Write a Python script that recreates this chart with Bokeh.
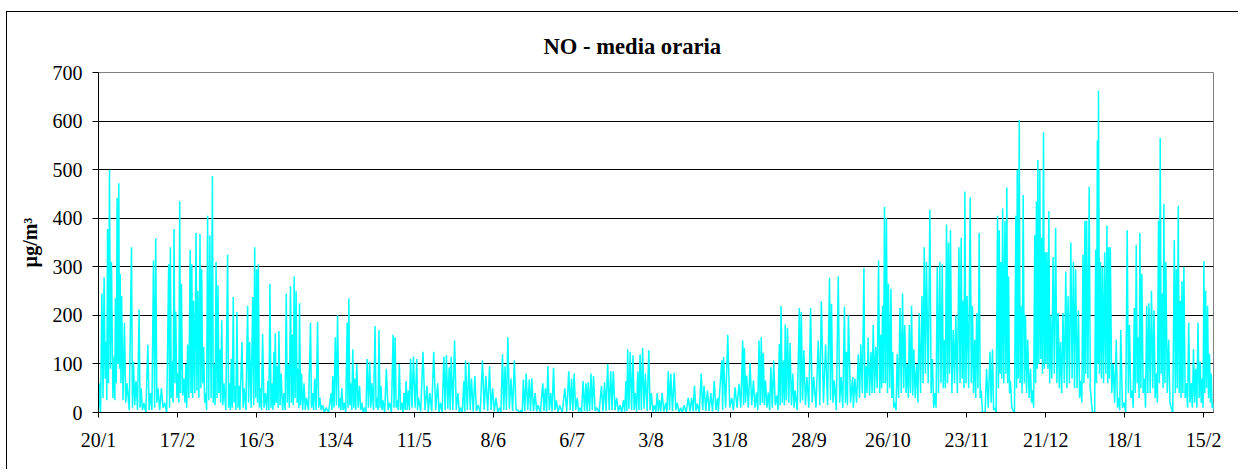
from bokeh.plotting import figure
from bokeh.models import Range1d, FixedTicker
from bokeh.embed import file_html
from bokeh.resources import INLINE

# x = days since 20/1 (hourly NO series, read as successive peaks and the trough after each)
tick_days = [0, 28, 56, 84, 112, 140, 168, 196, 224, 252, 280, 308, 336, 364, 392]
tick_labels = ["20/1", "17/2", "16/3", "13/4", "11/5", "8/6", "6/7", "3/8",
               "31/8", "28/9", "26/10", "23/11", "21/12", "18/1", "15/2"]

# winter 1 (20/1 - 10/3)
days_w1 = [0.3, 1.2, 2, 2.7, 3.2, 3.9, 4.6, 5.6, 6, 6.6, 7.2, 7.7, 8.2, 9.2, 10.1, 11.7,
           12.4, 13.3, 14.4, 15.1, 16.1, 17.5, 18.4, 19.5, 20.3, 21.1, 22.3, 23.5, 24.9,
           25.5, 26.1, 26.8, 27.4, 28.2, 28.8, 29.4, 30.3, 31, 31.6, 32.5, 33.1, 33.7,
           34.6, 35.2, 36, 36.6, 37.3, 38, 38.7, 39.5, 40.4, 41, 41.7, 42.4, 43, 43.7,
           44.5, 45.8, 46.5, 47.1, 47.8, 48.4, 49.1, 49.9]
peaks_w1 = [60, 245, 278, 145, 378, 500, 310, 115, 235, 442, 472, 285, 240, 185, 60, 340,
            105, 65, 212, 50, 20, 140, 40, 313, 358, 50, 50, 20, 305, 340, 105, 378, 208,
            80, 435, 265, 70, 100, 140, 335, 305, 230, 370, 250, 368, 295, 135, 40, 405,
            365, 487, 100, 310, 262, 130, 190, 60, 325, 60, 110, 238, 55, 207, 55]
lows_w1 = [0, 30, 70, 25, 60, 90, 30, 25, 60, 100, 90, 60, 25, 20, 5, 10, 15, 5, 10, 5,
           0, 5, 5, 10, 20, 5, 10, 0, 10, 30, 20, 60, 30, 20, 40, 35, 20, 10, 30, 40,
           30, 40, 45, 30, 50, 60, 20, 5, 25, 30, 20, 15, 30, 40, 20, 15, 5, 10, 5, 10,
           20, 5, 10, 5]

# spring (10/3 - 11/5)
days_sp = [50.9, 51.7, 52.9, 53.6, 54.7, 55.4, 56.1, 56.7, 57.4, 58.2, 59.2, 60.1, 60.8,
           61.6, 62.2, 62.7, 63.4, 64, 64.8, 65.8, 66.6, 67.3, 68.1, 68.8, 69.4, 70.1,
           70.8, 71.3, 72, 72.9, 73.8, 75.2, 75.9, 76.7, 77.7, 78.5, 79.5, 80.7, 82.5,
           83.1, 84, 84.8, 85.7, 86.3, 87.2, 88.2, 88.8, 89.5, 90.2, 90.9, 91.6, 92.6,
           93.4, 94.4, 95.3, 96.2, 97, 98.1, 98.8, 99.5, 100.2, 100.9, 102.1, 103.3,
           104.5, 105.2, 106, 106.7, 107.6, 108.4, 109.1, 109.9, 110.7, 111.7, 112.9]
peaks_sp = [145, 50, 220, 145, 238, 340, 295, 305, 50, 162, 40, 65, 265, 60, 125, 163, 95,
            168, 80, 40, 245, 100, 260, 160, 280, 250, 90, 225, 80, 60, 30, 185, 40, 70,
            187, 30, 15, 10, 40, 75, 155, 200, 30, 50, 20, 185, 235, 60, 130, 70, 100, 55,
            20, 10, 110, 105, 60, 178, 30, 170, 55, 25, 90, 20, 160, 155, 25, 100, 20, 40,
            65, 45, 110, 115, 110]
lows_sp = [10, 5, 20, 10, 15, 30, 20, 10, 5, 10, 5, 5, 10, 5, 15, 20, 10, 15, 5, 5,
           20, 10, 20, 15, 30, 20, 10, 15, 5, 5, 5, 10, 5, 5, 10, 5, 0, 0, 5, 10,
           15, 10, 5, 5, 0, 10, 15, 5, 10, 5, 10, 5, 0, 0, 10, 10, 5, 10, 5, 10,
           5, 0, 5, 0, 10, 10, 5, 5, 0, 5, 5, 5, 10, 10, 5]

# summer (11/5 - 28/8)
days_su = [113.5, 115.1, 116.5, 117.5, 118.9, 120.3, 121.3, 122.5, 123.4, 124.4, 125.1,
           126.3, 127.5, 128.4, 129.6, 130.2, 131.4, 132.3, 133.5, 134.6, 136.2, 137.4,
           138.7, 139.8, 141, 142.2, 143.3, 144.2, 145.2, 146.3, 147.5, 148.7, 149.9,
           150.7, 151.7, 152.8, 153.7, 154.9, 155.9, 157.6, 158.5, 159.4, 160.4, 161.4,
           162.4, 163.6, 165.4, 166.8, 167.8, 168.7, 169.8, 170.8, 171.9, 172.9, 173.7,
           174.7, 175.6, 176.7, 178.4, 179.5, 180.6, 181.7, 182.6, 183.8, 185, 186.2,
           187.1, 187.7, 188.6, 189.6, 190.4, 191.3, 192.1, 193, 194, 195.2, 196.1,
           197.2, 198.2, 199, 199.9, 201.2, 202.1, 203, 204.2, 205.3, 206.5, 207.7,
           209.2, 210.4, 211.4, 212.4, 213.8, 214.8, 216, 217.2, 218.4, 219.6]
peaks_su = [30, 125, 55, 40, 125, 60, 20, 115, 118, 93, 115, 148, 40, 10, 65, 107, 103, 70,
            75, 15, 107, 75, 95, 50, 30, 10, 120, 95, 155, 70, 107, 5, 5, 68, 80, 68, 70,
            40, 15, 60, 50, 95, 40, 92, 25, 15, 50, 85, 70, 80, 30, 10, 65, 60, 62, 80, 75,
            10, 55, 62, 100, 85, 85, 30, 15, 25, 65, 130, 125, 118, 40, 85, 120, 133, 80,
            128, 40, 15, 40, 25, 40, 20, 85, 80, 82, 20, 10, 15, 30, 30, 55, 18, 80, 55,
            45, 40, 65, 30]
lows_su = [2, 5, 0, 2, 5, 0, 0, 5, 8, 5, 5, 5, 0, 0, 2, 5, 5, 2, 3, 0,
           5, 3, 5, 2, 0, 0, 5, 5, 8, 3, 5, 0, 0, 3, 5, 3, 3, 2, 0, 3,
           2, 5, 2, 5, 0, 0, 2, 5, 3, 5, 2, 0, 3, 2, 3, 5, 3, 0, 2, 3,
           5, 5, 5, 2, 0, 2, 3, 8, 5, 5, 2, 5, 5, 8, 3, 5, 2, 0, 2, 2,
           2, 0, 5, 3, 5, 0, 0, 0, 2, 2, 3, 0, 5, 3, 3, 2, 5, 2]

# late summer / autumn (28/8 - 14/10)
days_au = [221.1, 221.7, 223.2, 224.6, 225.8, 227.2, 228.5, 229.1, 229.9, 231.1, 232.3,
           233.4, 234.3, 235.1, 235.8, 236.6, 237.6, 238.5, 239.5, 240.6, 241.5, 242.1,
           243, 243.6, 244.4, 245.3, 246.3, 247.1, 248.6, 249.3, 250.2, 251.3, 252.6,
           253.7, 255.3, 256.4, 257.9, 259.3, 260, 261, 262.4, 263.4, 264.6, 265.3, 266,
           267.5]
peaks_au = [107, 114, 160, 30, 52, 59, 148, 133, 76, 102, 66, 41, 148, 155, 123, 66, 41,
            93, 107, 35, 141, 219, 107, 181, 174, 143, 80, 45, 215, 207, 128, 73, 215, 73,
            148, 229, 140, 277, 224, 66, 280, 73, 218, 125, 200, 73]
lows_au = [5, 10, 10, 5, 10, 10, 15, 20, 10, 15, 10, 5, 15, 20, 15, 10, 5, 10, 15, 5,
           15, 20, 15, 25, 20, 15, 10, 5, 20, 25, 15, 10, 20, 10, 15, 20, 15, 25, 20, 5,
           20, 10, 20, 15, 20, 10]

# winter 2 (14/10 - 18/2)
days_w2 = [268.3, 269.5, 270.4, 271.5, 272.2, 273, 274, 274.8, 275.7, 276.7,
           277.5, 278.1, 278.8, 279.5, 280.2, 281.1, 281.7, 282.5, 283.3, 284.3,
           285.2, 286, 286.9, 287.6, 288.4, 289.2, 290.2, 291.1, 292.1, 292.9,
           293.7, 294.9, 295.8, 296.7, 297.5, 298.4, 299.3, 300, 300.8, 301.5,
           302.2, 303.2, 304.1, 305.2, 306, 306.7, 307.3, 308.1, 309.2, 310,
           310.8, 311.5, 312.4, 313.1, 314, 315, 316.2, 317.1, 317.9, 318.9,
           319.5, 320.1, 320.7, 321.5, 322.2, 322.8, 323.5, 324.4, 325.4, 325.9,
           326.6, 327.2, 328, 328.8, 329.6, 330.6, 331.3, 332.1, 332.7, 333.2,
           333.9, 334.5, 335.2, 335.8, 336.4, 337.1, 337.7, 338.6, 339.5, 340.4,
           341.2, 342.1, 343.1, 343.9, 344.9, 345.8, 346.6, 347.6, 348.4, 349.2,
           349.9, 350.5, 351.4, 352.2, 353, 353.7, 354.3, 354.7, 355.4, 356.1,
           356.9, 357.7, 358.3, 358.9, 359.9, 361, 361.9, 362.6, 363.8, 364.9,
           365.7, 366.6, 367.4, 368.1, 368.8, 369.4, 370.1, 371, 371.8, 372.6,
           373.5, 374.4, 375.2, 376, 376.6, 377.3, 377.9, 378.6, 379.6, 380.5,
           381.6, 382.3, 383, 383.7, 384.3, 385, 385.9, 386.7, 387.6, 388.4,
           389.2, 390, 390.8, 391.5, 392.1, 392.7, 393.4, 394.1, 394.7, 395.3]
peaks_w2 = [70, 120, 140, 297, 95, 155, 125, 180, 135, 313,
            160, 220, 423, 400, 265, 255, 125, 20, 120, 215,
            245, 180, 100, 180, 220, 130, 100, 205, 240, 340,
            310, 418, 110, 40, 300, 310, 305, 150, 387, 350,
            375, 170, 200, 340, 360, 230, 455, 240, 443, 220,
            150, 205, 370, 45, 0, 90, 125, 130, 10, 405,
            375, 310, 420, 395, 463, 280, 65, 5, 405, 500,
            602, 220, 448, 200, 150, 90, 45, 365, 435, 520,
            500, 360, 577, 330, 330, 415, 200, 320, 380, 205,
            145, 205, 290, 240, 350, 310, 295, 210, 65, 325,
            395, 395, 465, 20, 0, 335, 560, 663, 310, 300,
            330, 385, 340, 340, 100, 150, 30, 170, 20, 375,
            180, 45, 215, 345, 155, 370, 285, 70, 220, 225,
            250, 210, 80, 395, 565, 245, 430, 310, 150, 10,
            355, 295, 425, 230, 270, 300, 60, 185, 60, 130,
            90, 185, 105, 70, 312, 250, 220, 120, 80, 20]
lows_w2 = [20, 30, 40, 30, 40, 35, 40, 40, 50, 40,
           50, 60, 60, 40, 50, 30, 10, 5, 30, 40,
           50, 40, 30, 40, 35, 30, 20, 40, 60, 80,
           60, 40, 10, 10, 40, 60, 50, 50, 60, 80,
           40, 60, 40, 60, 70, 50, 60, 50, 60, 40,
           30, 50, 30, 0, 0, 10, 20, 5, 0, 50,
           80, 70, 60, 80, 60, 40, 10, 0, 50, 70,
           60, 40, 60, 40, 30, 20, 10, 60, 90, 100,
           110, 80, 90, 100, 90, 60, 70, 80, 60, 50,
           40, 60, 50, 60, 70, 50, 50, 30, 20, 60,
           80, 70, 50, 0, 0, 60, 100, 80, 70, 60,
           80, 60, 70, 40, 20, 10, 5, 10, 0, 40,
           30, 10, 40, 60, 30, 50, 40, 10, 40, 40,
           50, 30, 20, 60, 80, 50, 60, 40, 20, 0,
           40, 50, 40, 30, 40, 30, 10, 20, 10, 20,
           10, 30, 20, 10, 40, 50, 30, 20, 10, 5]

segments = [(days_w1, peaks_w1, lows_w1), (days_sp, peaks_sp, lows_sp),
            (days_su, peaks_su, lows_su), (days_au, peaks_au, lows_au),
            (days_w2, peaks_w2, lows_w2)]

xs, ys = [0.0], [0.0]
for d, pk, lo in segments:
    n = min(len(d), len(pk), len(lo))
    for i in range(n):
        xs.append(d[i])
        ys.append(pk[i])
        nxt = d[i + 1] if i + 1 < n else d[i] + 0.5
        xs.append((d[i] + nxt) / 2.0)
        ys.append(lo[i])

FONT = "Liberation Serif"

p = figure(width=1232, height=458, output_backend="svg", toolbar_location=None,
           x_range=Range1d(0, 395.5), y_range=Range1d(0, 700),
           min_border_left=91, min_border_right=26, min_border_top=60, min_border_bottom=58,
           background_fill_color="white", border_fill_color="white")
p.styles = {"border-left": "1px solid black", "border-top": "1px solid black",
            "position": "relative", "top": "11px", "left": "6px"}

p.line(xs, ys, line_color="#00FFFF", line_width=1.5)

p.title.text = "NO - media oraria"
p.title.text_font = FONT
p.title.text_font_size = "22.6px"
p.title.text_font_style = "bold"
p.title.text_color = "black"
p.title.align = "left"
p.title.offset = 445
p.title.standoff = 27

p.outline_line_color = "#808080"
p.outline_line_width = 1

p.xgrid.visible = False
p.ygrid.ticker = FixedTicker(ticks=[100, 200, 300, 400, 500, 600])
p.ygrid.grid_line_color = "black"
p.ygrid.grid_line_width = 1

p.xaxis.ticker = FixedTicker(ticks=tick_days)
p.xaxis.major_label_overrides = {d: lab for d, lab in zip(tick_days, tick_labels)}
p.yaxis.ticker = FixedTicker(ticks=[0, 100, 200, 300, 400, 500, 600, 700])

for ax in (p.xaxis[0], p.yaxis[0]):
    ax.axis_line_color = "black"
    ax.axis_line_width = 1
    ax.major_tick_line_color = "black"
    ax.major_tick_in = 0
    ax.minor_tick_line_color = None
    ax.major_label_text_font = FONT
    ax.major_label_text_font_size = "20px"
    ax.major_label_text_color = "black"

p.xaxis.major_tick_out = 5
p.xaxis.major_label_standoff = 11
p.yaxis.major_tick_out = 6
p.yaxis.major_label_standoff = 10

p.yaxis.axis_label = "µg/m³"
p.yaxis.axis_label_text_font = FONT
p.yaxis.axis_label_text_font_size = "20px"
p.yaxis.axis_label_text_font_style = "bold"
p.yaxis.axis_label_text_color = "black"
p.yaxis.axis_label_standoff = 9

open("out.html", "w").write(file_html(p, INLINE))
